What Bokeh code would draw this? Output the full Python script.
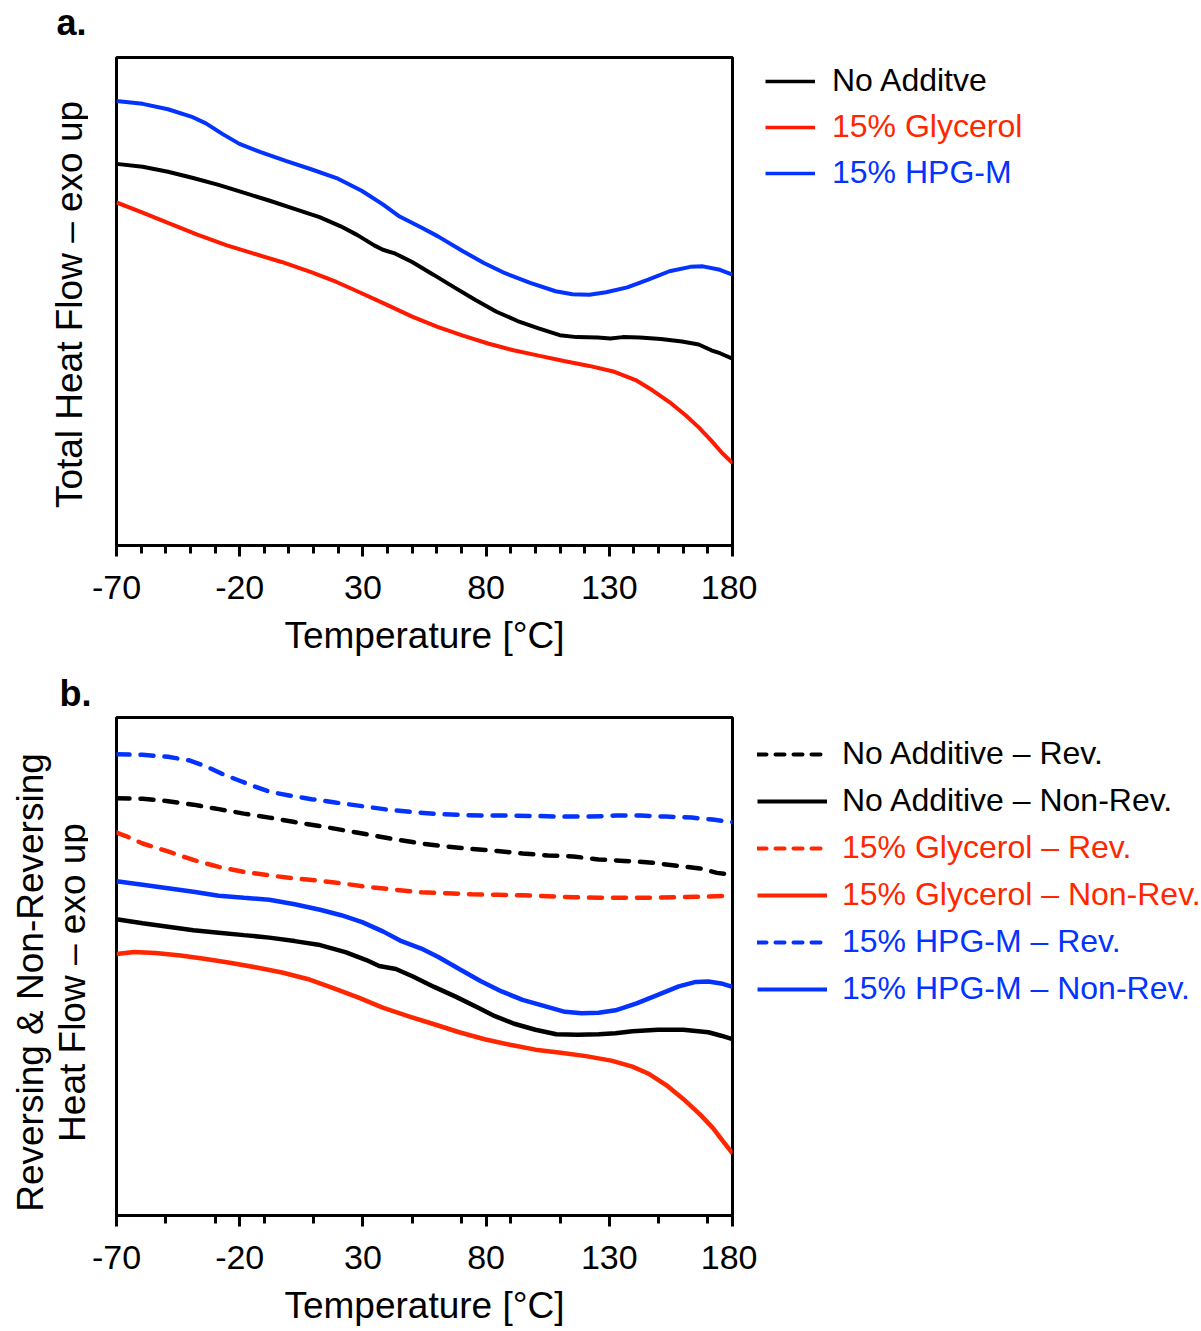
import math
from bokeh.plotting import figure
from bokeh.models import Range1d, FixedTicker, Legend, LegendItem, Label
from bokeh.layouts import column, row
from bokeh.embed import file_html
from bokeh.resources import INLINE

FONT = "Liberation Sans"
BLACK = "#000000"
RED_A = "#FF1A00"
RED = "#FF2600"
BLUE = "#0433FF"
NAN = float("nan")

# ---------------- data (temperature in degC, heat flow in arbitrary units) ----------------
# Panel a: total heat flow
a_blue_T = [-70, -59.4, -49.1, -39.7, -33.7, -26.9, -20.1, -11.5, -1.3, 9.0, 19.3, 29.5, 38.1, 44.9, 53.5,
            60.3, 70.6, 79.1, 87.7, 97.9, 108.2, 115.0, 121.9, 128.7, 137.3, 145.8, 154.4, 162.9, 168.0, 174.9, 180]
a_blue_y = [91.1, 90.5, 89.4, 87.9, 86.5, 84.3, 82.3, 80.6, 78.8, 77.1, 75.3, 72.7, 69.9, 67.4, 65.2,
            63.4, 60.3, 57.9, 55.8, 53.8, 52.1, 51.5, 51.4, 51.9, 52.9, 54.5, 56.2, 57.1, 57.2, 56.5, 55.5]

a_black_T = [-70, -59.4, -49.1, -38.9, -28.6, -18.4, -8.1, 2.2, 12.4, 21.0, 27.8, 34.6, 38.1, 43.2, 50.0, 58.6,
             67.1, 75.7, 84.2, 92.8, 101.3, 109.9, 116.7, 125.3, 130.4, 135.5, 142.4, 150.9, 159.5, 166.3, 171.4, 174.9, 180]
a_black_y = [78.2, 77.6, 76.6, 75.3, 73.9, 72.3, 70.7, 69.0, 67.3, 65.4, 63.6, 61.5, 60.6, 59.8, 58.1, 55.5,
             52.9, 50.3, 47.9, 46.0, 44.5, 43.1, 42.7, 42.6, 42.4, 42.7, 42.6, 42.3, 41.8, 41.2, 40.0, 39.4, 38.3]

a_red_T = [-70, -59.4, -49.1, -37.2, -25.2, -14.9, -3.0, 9.0, 19.3, 29.5, 39.8, 50.0, 60.3, 70.6, 80.8, 91.1,
           101.3, 111.6, 121.9, 132.1, 140.7, 147.5, 154.4, 161.2, 166.3, 171.4, 175.7, 180]
a_red_y = [70.3, 68.2, 66.1, 63.7, 61.5, 59.9, 58.1, 56.0, 54.0, 51.7, 49.3, 46.9, 44.8, 43.0, 41.4, 40.0,
           38.9, 37.8, 36.8, 35.6, 33.9, 31.8, 29.4, 26.6, 24.2, 21.5, 19.0, 16.9]

# Panel b: reversing (dashed) and non-reversing (solid) heat flow
b_blue_rev_T = [-70, -59.4, -49.1, -40.5, -33.7, -26.8, -20.0, -14.8, -8.0, 0.6, 9.2, 19.4, 29.7, 40.0, 50.3,
                60.6, 70.9, 81.1, 91.4, 101.7, 112.0, 122.3, 132.5, 142.8, 153.1, 163.4, 172.0, 180]
b_blue_rev_y = [92.6, 92.5, 92.1, 91.4, 90.2, 88.6, 87.3, 86.3, 85.1, 84.3, 83.6, 82.9, 82.2, 81.5, 81.0,
                80.6, 80.4, 80.3, 80.3, 80.2, 80.1, 80.1, 80.3, 80.3, 80.1, 79.9, 79.5, 79.0]

b_black_rev_T = [-70, -59.4, -49.1, -38.8, -28.5, -18.3, -8.0, 2.3, 12.6, 22.9, 33.2, 43.4, 53.7, 64.0, 74.3,
                 84.6, 94.8, 105.1, 115.4, 125.7, 136.0, 146.2, 156.5, 166.8, 173.7, 180]
b_black_rev_y = [83.8, 83.7, 83.2, 82.5, 81.6, 80.7, 79.9, 79.0, 78.2, 77.3, 76.4, 75.5, 74.7, 74.1, 73.6,
                 73.2, 72.7, 72.3, 72.1, 71.5, 71.2, 70.9, 70.3, 69.7, 68.8, 68.4]

b_red_rev_T = [-70, -66.2, -59.4, -49.1, -38.8, -28.5, -18.3, -8.0, 2.3, 12.6, 22.9, 33.2, 43.4, 53.7, 64.0,
               74.3, 84.6, 94.8, 105.1, 115.4, 125.7, 136.0, 146.2, 156.5, 166.8, 180]
b_red_rev_y = [76.9, 76.2, 74.7, 73.1, 71.4, 70.0, 69.0, 68.3, 67.7, 67.2, 66.6, 65.9, 65.4, 64.9, 64.7,
               64.5, 64.4, 64.3, 64.1, 63.9, 63.8, 63.8, 63.8, 63.9, 64.0, 64.2]

b_blue_non_T = [-70, -59.4, -49.1, -38.8, -28.5, -18.3, -8.0, 2.3, 12.6, 21.2, 29.7, 38.3, 45.1, 53.7, 60.6,
                69.1, 77.7, 86.3, 94.8, 103.4, 112.0, 118.8, 125.7, 132.5, 141.1, 149.7, 158.2, 165.1, 170.2, 175.4, 180]
b_blue_non_y = [67.1, 66.4, 65.7, 65.0, 64.2, 63.8, 63.4, 62.5, 61.4, 60.3, 58.9, 57.0, 55.2, 53.6, 51.9,
                49.5, 47.1, 45.0, 43.3, 42.1, 40.9, 40.6, 40.7, 41.2, 42.6, 44.3, 46.0, 46.9, 47.0, 46.6, 45.9]

b_black_non_T = [-70, -59.4, -49.1, -38.8, -28.5, -18.3, -8.0, 2.3, 12.6, 22.9, 31.4, 36.6, 43.4, 50.3, 58.9,
                 67.4, 76.0, 82.8, 91.4, 100.0, 108.5, 117.1, 125.7, 132.5, 139.4, 149.7, 160.0, 170.2, 175.4, 180]
b_black_non_y = [59.5, 58.7, 58.0, 57.3, 56.8, 56.3, 55.8, 55.1, 54.3, 52.9, 51.3, 50.1, 49.5, 48.0, 45.9,
                 44.0, 41.9, 40.2, 38.5, 37.3, 36.4, 36.3, 36.4, 36.6, 37.0, 37.3, 37.3, 36.8, 36.1, 35.4]

b_red_non_T = [-70, -62.8, -54.2, -44.0, -33.7, -23.4, -13.1, -2.8, 7.5, 17.7, 28.0, 38.3, 48.6, 58.9, 69.1,
               79.4, 89.7, 100.0, 110.3, 120.5, 130.8, 139.4, 146.2, 153.1, 160.0, 166.8, 172.0, 176.2, 180]
b_red_non_y = [52.5, 52.9, 52.7, 52.2, 51.5, 50.7, 49.8, 48.8, 47.5, 45.7, 43.8, 41.7, 40.0, 38.4, 36.8,
               35.4, 34.3, 33.3, 32.7, 32.0, 31.1, 29.9, 28.4, 26.2, 23.4, 20.3, 17.6, 14.9, 12.5]

major_ticks = [-70, -20, 30, 80, 130, 180]
a_minor_ticks = [-60, -50, -40, -30, -10, 0, 10, 20, 40, 50, 60, 70, 90, 100, 110, 120, 140, 150, 160, 170]
b_minor_ticks = [-50, -30, -10, 10, 50, 70, 90, 110, 150, 170]

a_labels = ["No Additve", "15% Glycerol", "15% HPG-M"]
b_labels = ["No Additive \u2013 Rev.", "No Additive \u2013 Non-Rev.", "15% Glycerol \u2013 Rev.",
            "15% Glycerol \u2013 Non-Rev.", "15% HPG-M \u2013 Rev.", "15% HPG-M \u2013 Non-Rev."]

# ---------------- layout geometry (pixels) ----------------
W = 1201
LEFT_W = 88                       # strip holding the y label
PLOT_L, FRAME_W, PLOT_R = 28, 616, 25
PLOT_W = PLOT_L + FRAME_W + PLOT_R
LEG_X0 = LEFT_W + PLOT_W          # page x where the legend strip starts
LEG_W = W - LEG_X0
A_TOP, A_BOT = 57, 545            # frame of panel a (page y)
B_TOP, B_BOT = 717, 1215          # frame of panel b (page y)
HEAD_A = 55                       # strip above panel a holding "a."
ROW_A = 665 - HEAD_A
HEAD_B = 49                       # strip above panel b holding "b."
ROW_B = 1331 - 665 - HEAD_B


def blank_fig(width, height):
    f = figure(width=width, height=height, output_backend="svg", toolbar_location=None,
               x_range=Range1d(0, 1), y_range=Range1d(0, 1), x_axis_type=None, y_axis_type=None,
               min_border=0, min_border_left=0, min_border_right=0, min_border_top=0, min_border_bottom=0)
    f.outline_line_color = None
    f.grid.visible = False
    f.background_fill_color = "white"
    f.border_fill_color = "white"
    return f


def make_fig(height, top, bottom, minor):
    p = figure(width=PLOT_W, height=height, output_backend="svg", toolbar_location=None,
               x_range=Range1d(-70, 180), y_range=Range1d(0, 100), y_axis_type=None,
               min_border_left=PLOT_L, min_border_right=PLOT_R, min_border_top=top, min_border_bottom=bottom)
    p.grid.visible = False
    p.outline_line_color = "black"
    p.outline_line_width = 3
    p.background_fill_color = "white"
    p.border_fill_color = "white"
    xa = p.xaxis[0]
    xa.ticker = FixedTicker(ticks=major_ticks, minor_ticks=minor)
    xa.major_label_overrides = {t: str(t) for t in major_ticks}
    xa.axis_line_width = 3
    xa.major_tick_line_width = 3
    xa.minor_tick_line_width = 3
    xa.major_tick_in = 0
    xa.major_tick_out = 11
    xa.minor_tick_in = 0
    xa.minor_tick_out = 8
    xa.major_label_text_font = FONT
    xa.major_label_text_font_size = "34px"
    xa.major_label_text_color = "black"
    xa.major_label_standoff = 19
    xa.axis_label = "Temperature [\u00b0C]"
    xa.axis_label_text_font = FONT
    xa.axis_label_text_font_size = "37px"
    xa.axis_label_text_font_style = "normal"
    xa.axis_label_text_color = "black"
    xa.axis_label_standoff = 13
    return p


def add_legend(f, label, renderer, color, x, y, gw, standoff):
    leg = Legend(items=[LegendItem(label=label, renderers=[renderer])], location=(x, y),
                 glyph_width=gw, glyph_height=30, label_height=30, label_standoff=standoff,
                 padding=0, margin=0, spacing=0, border_line_color=None, background_fill_alpha=0,
                 label_text_font=FONT, label_text_font_size="32px", label_text_color=color)
    f.add_layout(leg)


def add_text(f, text, x, y, size, angle=0.0, bold=False, baseline="middle", align="center"):
    f.add_layout(Label(x=x, y=y, x_units="screen", y_units="screen", text=text, angle=angle,
                       text_font=FONT, text_font_size=size, text_align=align, text_baseline=baseline,
                       text_font_style="bold" if bold else "normal", text_color="black"))


# ---------------- panel a ----------------
ta = blank_fig(W, HEAD_A)
add_text(ta, "a.", 56, HEAD_A - 22, "36px", bold=True, baseline="middle", align="left")

pa = make_fig(ROW_A, A_TOP - HEAD_A, 665 - A_BOT, a_minor_ticks)
pa.line(a_black_T, a_black_y, line_color=BLACK, line_width=4)
pa.line(a_red_T, a_red_y, line_color=RED_A, line_width=4)
pa.line(a_blue_T, a_blue_y, line_color=BLUE, line_width=4)

la = blank_fig(LEG_W, ROW_A)
a_styles = [(BLACK, BLACK), (RED_A, RED), (BLUE, BLUE)]
for i, (lab, (lc, tc)) in enumerate(zip(a_labels, a_styles)):
    # legend-only renderer: a single undefined point, nothing is drawn in the strip itself
    r = la.line([NAN], [NAN], line_color=lc, line_width=3.5)
    add_legend(la, lab, r, tc, 765 - LEG_X0, A_BOT - (99 + 46 * i), 50, 17)

sa = blank_fig(LEFT_W, ROW_A)
add_text(sa, "Total Heat Flow \u2013 exo up", 69, A_BOT - 304, "37px", angle=math.pi / 2)

# ---------------- panel b ----------------
tb = blank_fig(W, HEAD_B)
add_text(tb, "b.", 59, (665 + HEAD_B) - 693, "36px", bold=True, baseline="middle", align="left")

pb = make_fig(ROW_B, B_TOP - 665 - HEAD_B, 1331 - B_BOT, b_minor_ticks)
DASH = "13 11"
b_series = [
    (b_black_rev_T, b_black_rev_y, BLACK, DASH),
    (b_black_non_T, b_black_non_y, BLACK, "solid"),
    (b_red_rev_T, b_red_rev_y, RED, DASH),
    (b_red_non_T, b_red_non_y, RED, "solid"),
    (b_blue_rev_T, b_blue_rev_y, BLUE, DASH),
    (b_blue_non_T, b_blue_non_y, BLUE, "solid"),
]
for T, y, c, d in b_series:
    pb.line(T, y, line_color=c, line_width=4.5, line_dash=d, line_cap="round" if d != "solid" else "butt")

lb = blank_fig(LEG_W, ROW_B)
for i, (lab, (T, y, c, d)) in enumerate(zip(b_labels, b_series)):
    r = lb.line([NAN], [NAN], line_color=c, line_width=4, line_dash="9 9" if d != "solid" else "solid",
                line_cap="round" if d != "solid" else "butt")
    add_legend(lb, lab, r, c, 757 - LEG_X0, B_BOT - (772 + 47 * i), 70, 15)

sb = blank_fig(LEFT_W, ROW_B)
add_text(sb, "Reversing & Non-Reversing", 30, B_BOT - 982, "37px", angle=math.pi / 2)
add_text(sb, "Heat Flow \u2013 exo up", 72, B_BOT - 982, "37px", angle=math.pi / 2)

layout = column(ta, row(sa, pa, la, spacing=0), tb, row(sb, pb, lb, spacing=0), spacing=0)
open("out.html", "w").write(file_html(layout, INLINE))
